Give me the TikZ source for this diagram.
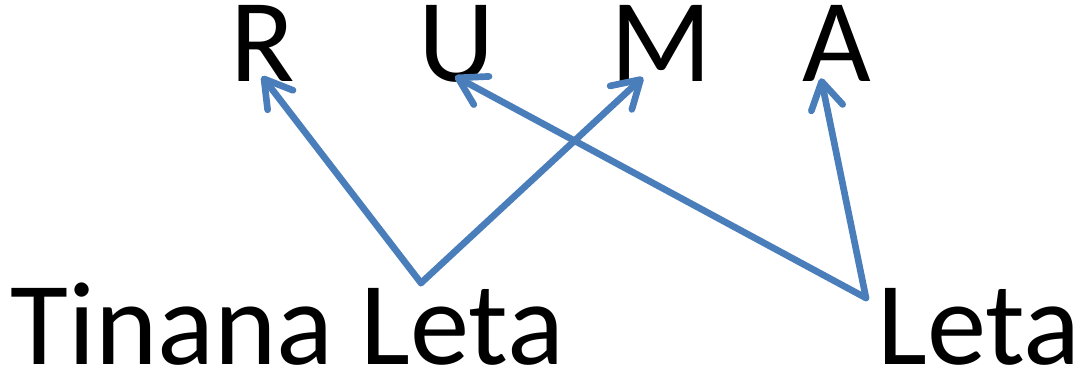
\documentclass[tikz,border=0pt]{standalone}
\usepackage{fontspec}
\setmainfont{Carlito}
\usetikzlibrary{arrows.meta,calc}
\definecolor{linkblue}{HTML}{4A7EBB}

\begin{document}
\begin{tikzpicture}[
 x=0.75pt,y=-0.75pt,
 word/.style={inner sep=0pt,anchor=base,text height=0.64em,text depth=0pt,font=\fontsize{89}{100}\selectfont},
 arr/.style={linkblue,line width=5pt,line cap=round,line join=round,-{Straight Barb[length=20pt,width=24pt,round]}}
]
\useasboundingbox (0,0) rectangle (1084,373);
% top letters
\node[word] (r) at (263,82) {R};
\node[word] (u) at (457,82) {U};
\node[word] (m) at (661,82) {M};
\node[word] (a) at (837,82) {A};
% bottom words
\node[word,anchor=base west] (tl) at (10,365) {Tinana Leta};
\node[word,anchor=base east] (l) at (1081,365) {Leta};
\coordinate (tlj) at (421,283);
\coordinate (lj) at (866,298);

\draw[arr] (tlj) -- ($(r.south)+(-1,-6)$);
\draw[arr] (tlj) -- ($(m.south)+(-18,-5)$);
\draw[arr] (lj) -- ($(u.south)+(-2,-6)$);
\draw[arr] (lj) -- ($(a.south)+(-16,-4)$);
\end{tikzpicture}
\end{document}
